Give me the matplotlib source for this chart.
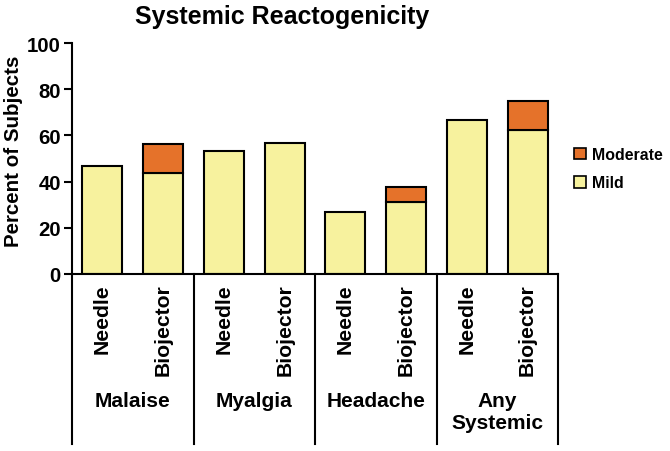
import matplotlib
matplotlib.use("Agg")
import matplotlib.pyplot as plt
from matplotlib.patches import Patch
import matplotlib.transforms as mtransforms

plt.rcParams['font.family'] = ['Liberation Sans', 'DejaVu Sans']
plt.rcParams['font.weight'] = 'bold'

groups = ["Malaise", "Myalgia", "Headache", "Any\nSystemic"]
devices = ["Needle", "Biojector"]
needle_mild = [46.7, 53.3, 26.7, 66.7]
needle_moderate = [0, 0, 0, 0]
biojector_mild = [43.8, 56.7, 31.3, 62.5]
biojector_moderate = [12.5, 0, 6.3, 12.5]

mild_color = "#F7F29E"
moderate_color = "#E5722A"

fig = plt.figure(figsize=(6.7, 4.52), dpi=100)
ax = fig.add_axes([72/670, 1-275/452, (558-72)/670, (275-44)/452])

xs, mild, mod, labels = [], [], [], []
for i in range(len(groups)):
    xs += [2*i, 2*i+1]
    mild += [needle_mild[i], biojector_mild[i]]
    mod += [needle_moderate[i], biojector_moderate[i]]
    labels += devices

w = 0.66
ax.bar(xs, mild, width=w, color=mild_color, edgecolor="black", linewidth=1.5, zorder=2)
for x, m, d in zip(xs, mild, mod):
    if d > 0:
        ax.bar([x], [d], bottom=[m], width=w, color=moderate_color, edgecolor="black", linewidth=1.5, zorder=2)

ax.set_xlim(-0.5, 7.5)
ax.set_ylim(0, 100)
ax.set_yticks([0, 20, 40, 60, 80, 100])
ax.tick_params(axis='y', labelsize=14.7, width=1.5, length=6, direction='out', pad=2)
for t in ax.get_yticklabels():
    t.set_fontweight('bold')
ax.set_xticks([])
for s in ["top", "right"]:
    ax.spines[s].set_visible(False)
ax.spines["left"].set_linewidth(1.5)
ax.spines["bottom"].set_linewidth(1.5)
ax.set_ylabel("Percent of Subjects", fontsize=14.8, fontweight='bold')
ax.yaxis.set_label_coords((23-72)/486, (275-151.5)/231)

trans = mtransforms.blended_transform_factory(ax.transData, ax.transAxes)
bottom_y = -(445-275)/231
for k in range(len(groups)+1):
    ax.plot([2*k-0.5, 2*k-0.5], [0, bottom_y], transform=trans, color="black", lw=1.5, clip_on=False)

for x, lab in zip(xs, labels):
    ax.text(x, -9/231, lab, transform=trans, rotation=90, ha='center', va='top',
            fontsize=15.2, fontweight='bold')
for i, g in enumerate(groups):
    ax.text(2*i+0.5, -(392-275)/231, g, transform=trans, ha='center', va='top',
            fontsize=15, fontweight='bold', linespacing=1.2)

fig.text(0.421, 0.962, "Systemic Reactogenicity", ha='center', va='center', fontsize=18, fontweight='bold')

handles = [Patch(facecolor=moderate_color, edgecolor='black', linewidth=1.2),
           Patch(facecolor=mild_color, edgecolor='black', linewidth=1.2)]
fig.legend(handles, ["Moderate", "Mild"], loc='upper left', bbox_to_anchor=(574/670, 1-148/452),
           frameon=False, handlelength=0.75, handleheight=0.75, handletextpad=0.4,
           labelspacing=0.85, borderaxespad=0, borderpad=0, prop={'weight': 'bold', 'size': 11.4})

fig.savefig("out.png", dpi=100)
